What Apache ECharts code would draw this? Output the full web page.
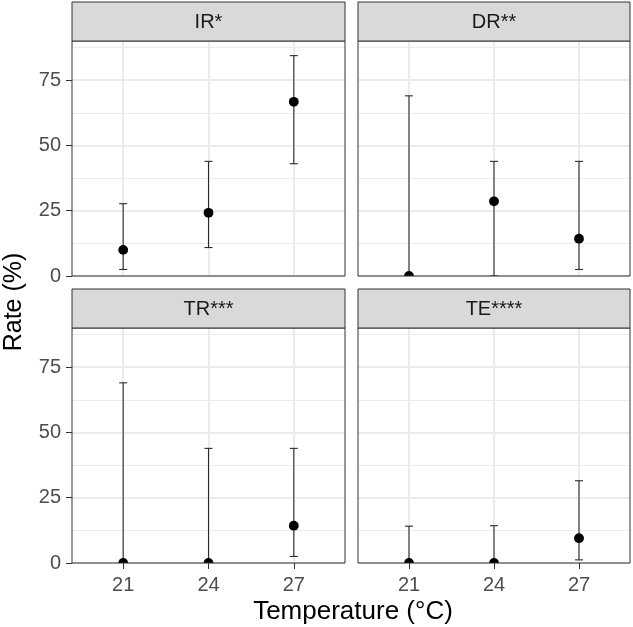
<!DOCTYPE html>
<html>
<head>
<meta charset="utf-8">
<script src="https://cdn.jsdelivr.net/npm/echarts@6/dist/echarts.min.js"></script>
<style>
html,body{margin:0;padding:0;background:#fff;}
#chart{width:633px;height:627px;}
</style>
</head>
<body>
<div id="chart"></div>
<script>
// ---- Data ----
const temps = [21, 24, 27];
const panelNames = ['IR*', 'DR**', 'TR***', 'TE****'];

const irRate = [10.0, 24.2, 66.7];
const irLow  = [2.5, 10.9, 43.0];
const irHigh = [27.7, 43.9, 84.4];

const drRate = [0, 28.6, 14.3];
const drLow  = [0, 0, 2.5];
const drHigh = [69.0, 43.9, 43.9];

const trRate = [0, 0, 14.3];
const trLow  = [0, 0, 2.5];
const trHigh = [69.0, 43.9, 43.9];

const teRate = [0, 0, 9.5];
const teLow  = [0, 0, 1.2];
const teHigh = [14.1, 14.3, 31.5];

const yMajorTicks = [0, 25, 50, 75];
const yMinorTicks = [12.5, 37.5, 62.5, 87.5];
const xTicks = [21, 24, 27];

const xTitle = 'Temperature (°C)';
const yTitle = 'Rate (%)';

// ---- Layout ----
const FONT = 'Liberation Sans, Arial, Helvetica, sans-serif';
const cols = [{left: 72, width: 273}, {left: 358, width: 272}];
const rows = [{top: 41, height: 235}, {top: 328, height: 235}];
const stripH = 39;
const yMin = 0, yMax = 90;
const xMin = 19.2, xMax = 28.8;

const panelData = [
  [irRate, irLow, irHigh],
  [drRate, drLow, drHigh],
  [trRate, trLow, trHigh],
  [teRate, teLow, teHigh]
];

const grids = [], xAxes = [], yAxes = [], series = [], graphics = [];

panelData.forEach((pd, i) => {
  const c = cols[i % 2], r = rows[Math.floor(i / 2)];
  const isBottom = Math.floor(i / 2) === 1;
  const isLeft = i % 2 === 0;
  grids.push({
    left: c.left, top: r.top, width: c.width, height: r.height,
    show: true, backgroundColor: 'transparent',
    borderColor: '#333333', borderWidth: 1, z: 10
  });
  xAxes.push({
    type: 'value', gridIndex: i, min: xMin, max: xMax,
    axisLine: {show: false},
    axisTick: {show: isBottom, customValues: xTicks, length: 6, lineStyle: {color: '#333333', width: 1}},
    axisLabel: {show: isBottom, customValues: xTicks, margin: 12, color: '#4d4d4d', fontSize: 20, fontFamily: FONT},
    splitLine: {show: true, lineStyle: {color: '#ebebeb', width: 2}}
  });
  // major y axis
  yAxes.push({
    type: 'value', gridIndex: i, min: yMin, max: yMax,
    axisLine: {show: false},
    axisTick: {show: isLeft, customValues: yMajorTicks, length: 6, lineStyle: {color: '#333333', width: 1}},
    axisLabel: {show: isLeft, customValues: yMajorTicks, margin: 11, color: '#4d4d4d', fontSize: 20, fontFamily: FONT},
    splitLine: {show: true, lineStyle: {color: '#ebebeb', width: 2}}
  });
  // minor y gridlines
  yAxes.push({
    type: 'value', gridIndex: i, min: yMin, max: yMax,
    axisLine: {show: false},
    axisTick: {show: false, customValues: yMinorTicks},
    axisLabel: {show: false, customValues: yMinorTicks},
    splitLine: {show: true, lineStyle: {color: '#ececec', width: 1}}
  });

  const [rate, low, high] = pd;
  const barData = temps.map((t, k) => [t, low[k], high[k]]);
  const ptData = temps.map((t, k) => [t, rate[k]]);

  series.push({
    type: 'custom', name: panelNames[i] + ' CI', xAxisIndex: i, yAxisIndex: 2 * i,
    clip: true, z: 2,
    data: barData,
    renderItem: function (params, api) {
      const x = api.value(0);
      const pLo = api.coord([x, api.value(1)]);
      const pHi = api.coord([x, api.value(2)]);
      const hw = 4;
      const st = {stroke: '#2b2b2b', lineWidth: 1.1};
      return {
        type: 'group',
        children: [
          {type: 'line', shape: {x1: pLo[0], y1: pLo[1], x2: pHi[0], y2: pHi[1]}, style: st},
          {type: 'line', shape: {x1: pHi[0] - hw, y1: pHi[1], x2: pHi[0] + hw, y2: pHi[1]}, style: st},
          {type: 'line', shape: {x1: pLo[0] - hw, y1: pLo[1], x2: pLo[0] + hw, y2: pLo[1]}, style: st}
        ]
      };
    }
  });
  series.push({
    type: 'custom', name: panelNames[i], xAxisIndex: i, yAxisIndex: 2 * i,
    clip: true, z: 3,
    data: ptData,
    renderItem: function (params, api) {
      const p = api.coord([api.value(0), api.value(1)]);
      return {type: 'circle', shape: {cx: p[0], cy: p[1], r: 4.9}, style: {fill: '#000000'}};
    }
  });

  // strip
  graphics.push({
    type: 'rect', z: 20,
    shape: {x: c.left, y: r.top - stripH, width: c.width, height: stripH},
    style: {fill: '#d9d9d9', stroke: '#333333', lineWidth: 1}
  });
  graphics.push({
    type: 'text', z: 21,
    x: c.left + c.width / 2, y: r.top - stripH / 2 + 1,
    style: {text: panelNames[i], fill: '#1a1a1a', font: '20px ' + FONT, textAlign: 'center', textVerticalAlign: 'middle'}
  });
});

graphics.push({
  type: 'text', z: 21,
  x: (cols[0].left + cols[1].left + cols[1].width) / 2 + 2, y: 612,
  style: {text: xTitle, fill: '#000000', font: '26px ' + FONT, textAlign: 'center', textVerticalAlign: 'middle'}
});
graphics.push({
  type: 'text', z: 21,
  x: 14, y: (rows[0].top + rows[1].top + rows[1].height) / 2,
  rotation: Math.PI / 2,
  style: {text: yTitle, fill: '#000000', font: '25px ' + FONT, textAlign: 'center', textVerticalAlign: 'middle'}
});

const chart = echarts.init(document.getElementById('chart'), null, {renderer: 'canvas'});
chart.setOption({
  animation: false,
  backgroundColor: '#ffffff',
  grid: grids,
  xAxis: xAxes,
  yAxis: yAxes,
  series: series,
  graphic: graphics
});
</script>
</body>
</html>
